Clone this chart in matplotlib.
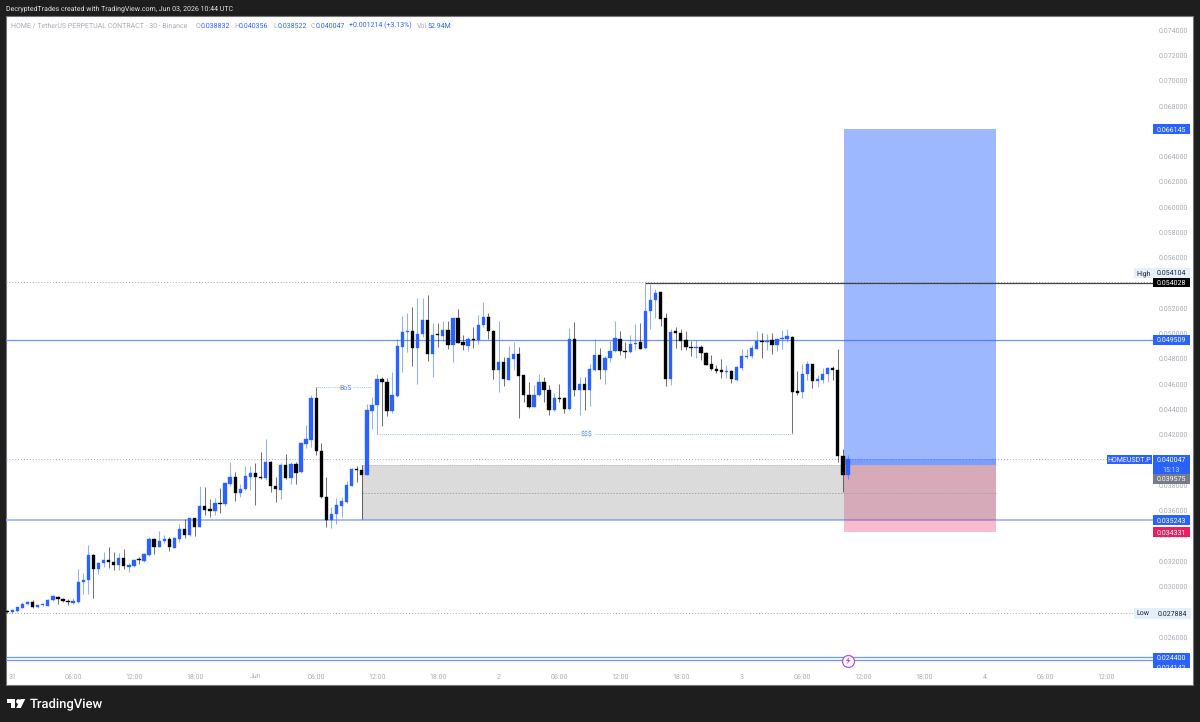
import numpy as np
import matplotlib
matplotlib.use('Agg')
import matplotlib.pyplot as plt
from matplotlib.patches import Rectangle, Polygon

plt.rcParams['font.family'] = ['Roboto', 'DejaVu Sans']
plt.rcParams['text.hinting'] = 'none'
plt.rcParams['text.hinting_factor'] = 1

# HOME/USDT 30m candles, prices in thousandths
opens = [28.03, 28.00, 28.03, 28.32, 28.58, 28.79, 28.35, 28.50, 28.48, 28.90,
         29.19, 28.98, 28.85, 28.71, 28.77, 30.38, 30.51, 32.46, 31.38, 31.85,
         32.06, 31.90, 31.69, 32.22, 31.56, 31.59, 32.17, 32.01, 32.51, 33.75,
         33.14, 33.59, 33.75, 33.06, 33.75, 34.51, 34.07, 35.38, 34.70, 36.39,
         36.10, 35.94, 36.57, 36.52, 38.10, 38.65, 37.39, 37.68, 38.68, 38.99,
         38.63, 38.57, 39.87, 37.94, 37.62, 39.63, 38.57, 39.65, 39.02, 41.29,
         41.60, 44.87, 40.71, 37.04, 35.25, 35.70, 36.36, 36.70, 37.97, 39.26,
         39.21, 38.81, 43.87, 44.37, 46.40, 46.19, 43.84, 45.06, 48.93, 50.15,
         50.20, 48.85, 49.93, 51.07, 48.38, 49.96, 49.83, 50.30, 49.06, 51.20,
         49.30, 49.01, 49.56, 49.49, 50.65, 51.33, 50.20, 47.09, 47.77, 46.35,
         48.01, 48.38, 46.72, 45.14, 44.19, 45.11, 46.19, 45.56, 43.95, 44.87,
         44.87, 44.00, 49.54, 45.56, 46.01, 45.53, 47.14, 48.32, 47.09, 48.06,
         48.59, 49.56, 48.61, 48.54, 49.19, 49.30, 48.83, 51.78, 52.62, 53.25,
         51.20, 46.43, 50.17, 50.06, 49.48, 48.93, 48.85, 48.96, 48.46, 47.56,
         47.22, 47.09, 46.93, 47.03, 46.32, 47.30, 48.17, 48.19, 48.77, 49.40,
         49.35, 49.46, 49.12, 49.54, 49.56, 49.75, 45.48, 45.35, 46.77, 47.56,
         46.27, 46.35, 46.80, 47.27, 47.11, 40.31, 38.832]
highs = [28.13, 28.21, 28.40, 28.74, 28.85, 28.90, 28.53, 28.71, 28.98, 29.32,
         29.27, 29.11, 29.00, 29.06, 31.38, 31.09, 33.25, 32.56, 31.93, 32.72,
         33.09, 32.69, 32.67, 32.98, 31.88, 32.19, 32.35, 32.62, 33.93, 33.85,
         34.36, 34.07, 33.93, 33.91, 34.94, 35.36, 35.44, 35.44, 37.94, 37.86,
         36.91, 37.02, 37.76, 38.26, 39.81, 39.02, 38.07, 39.50, 39.52, 39.73,
         40.60, 41.68, 39.94, 38.63, 39.79, 40.50, 39.87, 39.87, 41.39, 42.79,
         45.11, 45.74, 41.34, 38.62, 36.25, 36.96, 37.10, 38.36, 39.34, 39.52,
         39.60, 44.42, 45.00, 46.77, 46.59, 46.51, 46.98, 49.54, 51.41, 51.65,
         52.07, 52.81, 52.81, 53.02, 50.86, 50.86, 50.99, 50.99, 51.20, 51.94,
         49.88, 49.75, 50.49, 51.49, 52.52, 51.65, 50.28, 50.96, 48.11, 49.01,
         49.30, 48.96, 46.74, 46.19, 45.93, 46.80, 46.59, 45.93, 45.27, 46.01,
         44.95, 50.41, 50.88, 46.59, 46.53, 47.59, 49.54, 48.83, 48.22, 49.43,
         51.01, 50.17, 49.30, 49.85, 50.75, 50.83, 54.104, 53.91, 53.49, 53.31,
         51.65, 50.33, 50.54, 50.33, 50.20, 49.43, 49.48, 49.06, 48.56, 48.32,
         47.53, 47.98, 47.48, 47.11, 47.43, 48.77, 48.77, 49.09, 50.17, 50.06,
         49.93, 50.06, 49.62, 50.27, 50.38, 49.83, 47.01, 47.59, 47.85, 47.61,
         46.72, 47.30, 47.35, 47.43, 48.77, 40.84, 40.356]
lows = [27.884, 27.92, 28.00, 28.27, 28.50, 28.29, 28.29, 28.48, 28.42, 28.85,
        28.64, 28.77, 28.56, 28.58, 28.71, 29.43, 29.43, 29.11, 30.95, 31.51,
        31.48, 31.32, 31.32, 31.38, 31.14, 31.53, 31.77, 31.96, 32.43, 32.54,
        33.09, 33.46, 32.83, 33.01, 33.49, 33.83, 34.01, 33.99, 34.67, 35.67,
        35.49, 35.67, 35.83, 36.36, 37.97, 36.75, 37.10, 37.62, 37.62, 36.41,
        38.47, 38.41, 37.47, 36.65, 36.89, 38.52, 38.13, 38.10, 39.00, 40.92,
        41.05, 40.42, 36.96, 34.67, 34.62, 34.91, 35.51, 36.62, 37.94, 38.23,
        35.30, 38.78, 42.47, 42.03, 42.71, 43.48, 43.74, 45.00, 46.98, 48.56,
        47.43, 46.03, 49.75, 47.82, 46.56, 48.96, 49.43, 48.80, 47.72, 49.22,
        48.69, 48.62, 48.83, 49.17, 50.54, 49.56, 46.40, 45.35, 45.85, 46.32,
        47.11, 43.29, 44.61, 44.13, 44.16, 45.06, 44.61, 43.55, 43.90, 44.56,
        43.71, 43.95, 45.06, 43.55, 43.92, 44.27, 47.06, 46.37, 46.00, 47.74,
        48.54, 48.27, 48.06, 48.46, 48.69, 48.75, 48.80, 50.33, 51.22, 50.62,
        45.87, 45.95, 48.83, 48.69, 48.69, 48.22, 48.09, 47.90, 47.48, 47.09,
        46.85, 46.45, 46.45, 46.11, 46.27, 47.11, 47.96, 48.09, 48.75, 48.06,
        48.69, 48.35, 48.61, 48.77, 49.35, 42.10, 45.14, 44.92, 46.32, 45.66,
        45.74, 46.11, 46.19, 46.32, 39.86, 37.46, 38.522]
closes = [27.98, 28.11, 28.37, 28.61, 28.74, 28.35, 28.50, 28.58, 28.90, 29.24,
          29.03, 28.85, 28.74, 28.82, 30.38, 30.51, 32.46, 31.35, 31.85, 32.06,
          31.96, 31.69, 32.22, 31.59, 31.72, 32.11, 32.11, 32.56, 33.75, 33.14,
          33.59, 33.75, 33.09, 33.80, 34.51, 34.09, 35.38, 34.67, 36.39, 36.07,
          35.99, 36.57, 36.52, 38.18, 38.65, 37.41, 37.70, 38.76, 38.99, 38.63,
          38.55, 39.87, 37.94, 37.68, 39.63, 38.57, 39.68, 38.99, 41.31, 41.63,
          44.87, 40.71, 37.04, 35.25, 35.72, 36.41, 36.75, 37.99, 39.26, 39.18,
          38.81, 43.95, 44.37, 46.40, 46.19, 43.90, 45.11, 49.01, 50.15, 50.20,
          48.88, 49.96, 51.04, 48.38, 49.91, 49.91, 50.30, 49.06, 51.20, 49.25,
          49.06, 49.54, 49.51, 50.70, 51.33, 50.17, 47.09, 47.77, 46.37, 48.06,
          48.38, 46.64, 45.14, 44.19, 45.14, 46.19, 45.56, 43.95, 44.87, 44.82,
          44.00, 49.54, 45.56, 45.98, 45.50, 47.22, 48.33, 47.11, 48.09, 48.61,
          49.62, 48.59, 48.56, 49.19, 49.25, 48.80, 51.78, 52.65, 53.23, 51.17,
          46.43, 50.14, 50.04, 49.43, 48.90, 48.88, 48.93, 48.46, 47.53, 47.19,
          47.06, 46.95, 47.01, 46.43, 47.32, 48.19, 48.22, 48.83, 49.40, 49.35,
          49.40, 49.12, 49.54, 49.62, 49.77, 45.40, 45.29, 46.77, 47.56, 46.27,
          46.37, 46.82, 47.27, 47.14, 40.34, 38.84, 40.047]

# time axis, one label every 12 bars starting on bar 1
time_labels = ['31', '06:00', '12:00', '18:00', 'Jun', '06:00', '12:00', '18:00', '2', '06:00',
               '12:00', '18:00', '3', '06:00', '12:00', '18:00', '4', '06:00', '12:00']
price_ticks = [0.026, 0.028, 0.030, 0.032, 0.034, 0.036, 0.038, 0.040, 0.042, 0.044, 0.046, 0.048,
               0.050, 0.052, 0.054, 0.056, 0.058, 0.060, 0.062, 0.064, 0.066, 0.068, 0.070, 0.072, 0.074]

target_price = 0.066145
entry_price = 0.039575
stop_price = 0.034331
last_price = 0.040047
support_price = 0.035243
resistance_price = 0.049509
pivot_price = 0.054028
high_price = 0.054104
low_price = 0.027884
floor_prices = [0.024400, 0.024142]
bos_price = 0.04577
sweep_price = 0.04205

BLUE = '#2962ff'
GREY_TEXT = '#a9abb3'
FS = 5.2
W, H = 1200, 722
PANEL_L, PANEL_R, PANEL_T, PANEL_B = 6, 1193, 16, 685
AX_R, AX_B = 1153, 668
BAR_X0, BAR_DX = 7.3, 5.064
PY0, PDY = 30, 25.29 / 0.002


def py(p):
    return PY0 + (0.074 - p) * PDY


def bar_at(px):
    return (px - BAR_X0) / BAR_DX


def tag(x0, x1, y0, y1, label, bg=BLUE, fg='white'):
    over.add_patch(Rectangle((x0, y0), x1 - x0, y1 - y0, fc=bg, ec='none', zorder=5))
    over.text((x0 + x1) / 2, (y0 + y1) / 2 + 2.6, label, color=fg, fontsize=FS, ha='center', va='baseline', zorder=6)


fig = plt.figure(figsize=(W / 100, H / 100), dpi=100, facecolor='#1e1e1e')
fig.add_artist(Rectangle((PANEL_L / W, 1 - PANEL_B / H), (PANEL_R - PANEL_L) / W, (PANEL_B - PANEL_T) / H,
                         transform=fig.transFigure, fc='white', ec='#777777', lw=0.8, zorder=-1))

ax = fig.add_axes([PANEL_L / W, 1 - AX_B / H, (AX_R - PANEL_L) / W, (AX_B - PANEL_T) / H])
ax.patch.set_alpha(0)
for s in ax.spines.values():
    s.set_visible(False)
ax.set_xlim(bar_at(PANEL_L), bar_at(AX_R))
ax.set_ylim(0.074 - (AX_B - PY0) / PDY, 0.074 + (PY0 - PANEL_T) / PDY)

ax.yaxis.tick_right()
ax.set_yticks(price_ticks)
ax.set_yticklabels(['%.6f' % p for p in price_ticks])
ax.tick_params(axis='y', length=0, pad=4.3, labelsize=FS, labelcolor=GREY_TEXT)
ax.set_xticks(1 + 12 * np.arange(len(time_labels)))
ax.set_xticklabels(time_labels)
ax.tick_params(axis='x', length=0, pad=4.2, labelsize=FS, labelcolor=GREY_TEXT)

# horizontal levels
ax.axhline(high_price, color='#a8a8a8', lw=0.7, ls=(0, (1, 2)), zorder=1)
ax.axhline(low_price, color='#a8a8a8', lw=0.7, ls=(0, (1, 2)), zorder=1)
ax.axhline(last_price, color='#8fa8e8', lw=0.7, ls=(0, (1, 2)), zorder=1)
ax.axhline(resistance_price, color='#6d94ff', lw=0.9, zorder=1)
ax.axhline(support_price, color='#9db8ff', lw=1.3, zorder=1)
for p in floor_prices:
    ax.axhline(p, color='#6d94ff', lw=0.9, zorder=1)
ax.plot([bar_at(646), bar_at(AX_R)], [pivot_price, pivot_price], color='#444444', lw=0.9, zorder=3)

# position and demand zones
x_zone0, x_pos0, x_pos1 = bar_at(361.5), bar_at(843.5), bar_at(995.5)
ax.add_patch(Rectangle((x_pos0, entry_price), x_pos1 - x_pos0, target_price - entry_price,
                       fc=BLUE, alpha=0.45, ec='none', zorder=2))
ax.add_patch(Rectangle((x_pos0, entry_price), x_pos1 - x_pos0, last_price - entry_price,
                       fc=BLUE, alpha=0.3, ec='none', zorder=2))
ax.add_patch(Rectangle((x_pos0, stop_price), x_pos1 - x_pos0, entry_price - stop_price,
                       fc='#e91e63', alpha=0.3, ec='none', zorder=2))
ax.add_patch(Rectangle((x_zone0, support_price), x_pos1 - x_zone0, entry_price - support_price,
                       fc='#808080', alpha=0.28, ec='none', zorder=2))
ax.plot([x_zone0, x_pos1], [entry_price, entry_price], color='#b0b0b0', lw=0.6, ls=(0, (1, 1.5)), zorder=2)
mid_zone = (entry_price + support_price) / 2
ax.plot([x_zone0, x_pos1], [mid_zone, mid_zone], color='#a6a6a6', lw=0.7, ls=(0, (1.5, 1.5)), zorder=2)

# annotations
ax.plot([bar_at(317), bar_at(340)], [bos_price, bos_price], color='#9db8ff', lw=0.7, ls=(0, (1, 1.2)), zorder=3)
ax.plot([bar_at(353), bar_at(372)], [bos_price, bos_price], color='#9db8ff', lw=0.7, ls=(0, (1, 1.2)), zorder=3)
ax.text(bar_at(346), bos_price, 'BoS', color=BLUE, alpha=0.8, fontsize=FS, ha='center', va='center_baseline', zorder=3)
ax.plot([bar_at(377), bar_at(579)], [sweep_price, sweep_price], color='#9db8ff', lw=0.7, ls=(0, (1, 1.2)), zorder=3)
ax.plot([bar_at(595), bar_at(793)], [sweep_price, sweep_price], color='#9db8ff', lw=0.7, ls=(0, (1, 1.2)), zorder=3)
ax.text(bar_at(587), sweep_price, '$$$', color=BLUE, alpha=0.8, fontsize=FS, ha='center', va='center_baseline', zorder=3)

# candles
o = np.array(opens) / 1000
h = np.array(highs) / 1000
l = np.array(lows) / 1000
c = np.array(closes) / 1000
idx = np.arange(len(o))
up = c >= o
ax.vlines(idx[up], l[up], h[up], color=BLUE, alpha=0.5, lw=0.75, zorder=4)
ax.vlines(idx[~up], l[~up], h[~up], color='black', alpha=0.55, lw=0.75, zorder=4)
ax.bar(idx[up], (c - o)[up], bottom=o[up], width=0.66, color=BLUE, ec=BLUE, lw=0.25, zorder=5)
ax.bar(idx[~up], (c - o)[~up], bottom=o[~up], width=0.66, color='black', ec='black', lw=0.25, zorder=5)

# pixel-space layer for the price tags, header and logo
over = fig.add_axes([0, 0, 1, 1], zorder=5)
over.set_xlim(0, W)
over.set_ylim(H, 0)
over.axis('off')
over.patch.set_alpha(0)

over.text(6, 11, 'DecryptedTrades created with TradingView.com, Jun 03, 2026 10:44 UTC',
          color='#e4e4e4', fontsize=5.2, va='baseline')
over.text(11, 27.6, 'HOME / TetherUS PERPETUAL CONTRACT · 30 · Binance', color=GREY_TEXT, fontsize=5.1,
          va='baseline')
legend_parts = [(196, 'O', GREY_TEXT), (201, '0.038832', BLUE), (234, 'H', GREY_TEXT), (239, '0.040356', BLUE),
                (273, 'L', GREY_TEXT), (278, '0.038522', BLUE), (311, 'C', GREY_TEXT), (316, '0.040047', BLUE),
                (349, '+0.001214 (+3.13%)', BLUE), (417, 'Vol', GREY_TEXT), (427, '52.94M', BLUE)]
for x, s, col in legend_parts:
    over.text(x, 27.6, s, color=col, fontsize=5.1, va='baseline')

# the two lowest tags run off the price scale, so they are clipped with it
clip = Rectangle((PANEL_L, PANEL_T), PANEL_R - PANEL_L, AX_B - PANEL_T, transform=over.transData)
over.add_patch(Rectangle((1153, 653), 37, 15, fc=BLUE, ec='none', zorder=5))
over.text(1171.5, py(floor_prices[0]) + 2.6, '%.6f' % floor_prices[0], color='white', fontsize=FS, ha='center',
          va='baseline', zorder=6)
t = over.text(1171.5, 669.6, '%.6f' % floor_prices[1], color='white', fontsize=FS, ha='center',
              va='baseline', zorder=6)
t.set_clip_path(clip)
t.set_clip_on(True)

tag(1153, 1190, py(target_price) - 5, py(target_price) + 5, '%.6f' % target_price)
tag(1153, 1190, 268, 277.5, '%.6f' % high_price, bg='#e3effd', fg='#222222')
tag(1134, 1152.5, 268, 277.5, 'High', bg='#e3effd', fg='#222222')
tag(1153, 1190, 278, 287, '%.6f' % pivot_price, bg='black')
tag(1153, 1190, 335, 344.5, '%.6f' % resistance_price)
tag(1107, 1152, 454.5, 464, 'HOMEUSDT.P')
tag(1153, 1190, 454.5, 464, '%.6f' % last_price)
tag(1153, 1190, 464, 474, '15:13', fg='#cfdcff')
tag(1153, 1190, 474, 483.5, '%.6f' % entry_price, bg='#787b86')
tag(1153, 1190, 515, 525, '%.6f' % support_price)
tag(1153, 1190, 527, 537, '%.6f' % stop_price, bg='#e91e63')
tag(1153, 1191, 608, 619, '%.6f' % low_price, bg='#e3effd', fg='#222222')
tag(1134, 1152.5, 608, 619, 'Low', bg='#e3effd', fg='#222222')

# lightning badge on the time axis
over.plot([848], [660.5], 'o', ms=8.6, mfc='white', mec='#b452cd', mew=0.9, zorder=6)
over.add_patch(Polygon([(849.5, 656.8), (846, 661), (848, 661), (846.8, 664.3), (850.6, 660), (848.6, 660)],
                       fc='#b452cd', ec='none', zorder=7))

# footer logo
over.add_patch(Polygon([(7, 699), (15, 699), (15, 708), (11, 708), (11, 702.6), (7, 702.6)], fc='white', ec='none'))
over.plot([17.8], [701], 'o', ms=3.4, mfc='white', mec='none')
over.add_patch(Polygon([(20.6, 699), (25.2, 699), (20.8, 708), (16.2, 708)], fc='white', ec='none'))
over.text(30, 708, 'TradingView', color='white', fontsize=9.3, fontweight='medium', va='baseline')

fig.savefig('out.png', dpi=100, facecolor=fig.get_facecolor())
